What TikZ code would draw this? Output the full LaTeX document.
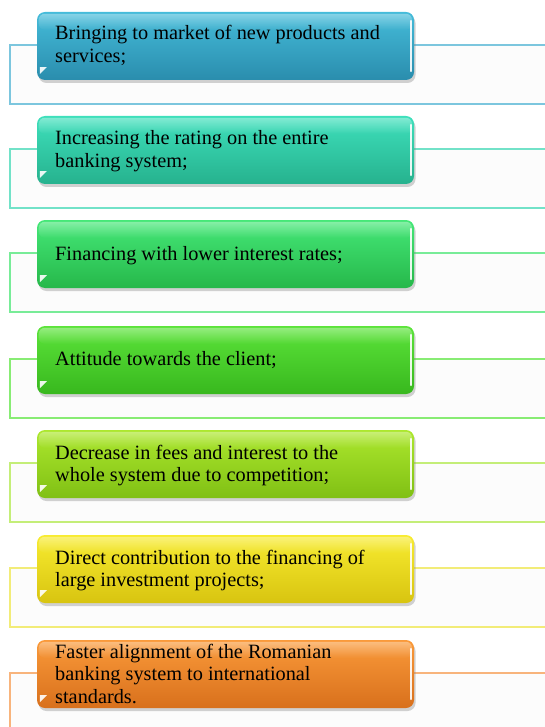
\documentclass[tikz,border=0pt]{standalone}
\usepackage{fontspec}
\setmainfont{Liberation Serif}
\usetikzlibrary{shadows,fadings}
\definecolor{c1t}{HTML}{45BCDA}\definecolor{c1b}{HTML}{2A8DAD}\definecolor{c1l}{HTML}{7CC6DE}
\definecolor{c2t}{HTML}{3EE0BC}\definecolor{c2b}{HTML}{26B28E}\definecolor{c2l}{HTML}{72E2C8}
\definecolor{c3t}{HTML}{45E878}\definecolor{c3b}{HTML}{26B84A}\definecolor{c3l}{HTML}{78EC98}
\definecolor{c4t}{HTML}{5CE43A}\definecolor{c4b}{HTML}{38B81E}\definecolor{c4l}{HTML}{88EC74}
\definecolor{c5t}{HTML}{ADE82E}\definecolor{c5b}{HTML}{80C014}\definecolor{c5l}{HTML}{C4EE78}
\definecolor{c6t}{HTML}{F8EC30}\definecolor{c6b}{HTML}{D8C410}\definecolor{c6l}{HTML}{F2EC78}
\definecolor{c7t}{HTML}{FA9A3A}\definecolor{c7b}{HTML}{D8701C}\definecolor{c7l}{HTML}{F8B47C}
\tikzset{
  framebox/.style={line width=2pt, fill=black!1},
  itembox/.style={rounded corners=8pt, minimum width=377pt, minimum height=68pt,
    inner sep=0pt, drop shadow={shadow xshift=1.5pt, shadow yshift=-3pt, opacity=0.35}},
  itemtext/.style={anchor=base west, inner sep=0pt, font=\fontsize{20.3}{22.5}\selectfont}
}
\newcommand\bankitem[6]{%
  \draw[framebox, draw=c#1l] (10,#2+33) rectangle (560,#2+92);
  \node[itembox, top color=c#1t, bottom color=c#1b] (b#1) at (225.5,#2+34) {};
  \fill[white, opacity=0.35, path fading=south, rounded corners=6pt]
    ([xshift=2pt,yshift=-2pt]b#1.north west) rectangle ([xshift=-2pt,yshift=-18pt]b#1.north east);
  \draw[white, line width=1.8pt, opacity=0.9, line cap=round]
    ([xshift=-3pt,yshift=-9pt]b#1.north east) -- ([xshift=-3pt,yshift=9pt]b#1.south east);
  \fill[white, opacity=0.9] ([xshift=3pt,yshift=13pt]b#1.south west) -- ++(7,0) -- ++(-7,7) -- cycle;
  \node[itemtext] (t#1) at (55,#2+#5) {\parbox[t]{350pt}{\raggedright #6}};
}
\begin{document}
\begin{tikzpicture}[x=1pt,y=-1pt]
\useasboundingbox (0,0) rectangle (545,727);
\clip (0,0) rectangle (545,727);
\bankitem{1}{12}{}{}{28}{Bringing to market of new products and\\services;}
\bankitem{2}{116}{}{}{29}{Increasing the rating on the entire\\banking system;}
\bankitem{3}{220}{}{}{40}{Financing with lower interest rates;}
\bankitem{4}{326}{}{}{39}{Attitude towards the client;}
\bankitem{5}{430}{}{}{29}{Decrease in fees and interest to the\\whole system due to competition;}
\bankitem{6}{535}{}{}{29}{Direct contribution to the financing of\\large investment projects;}
\bankitem{7}{640}{}{}{18}{Faster alignment of the Romanian\\banking system to international\\standards.}
\end{tikzpicture}
\end{document}
